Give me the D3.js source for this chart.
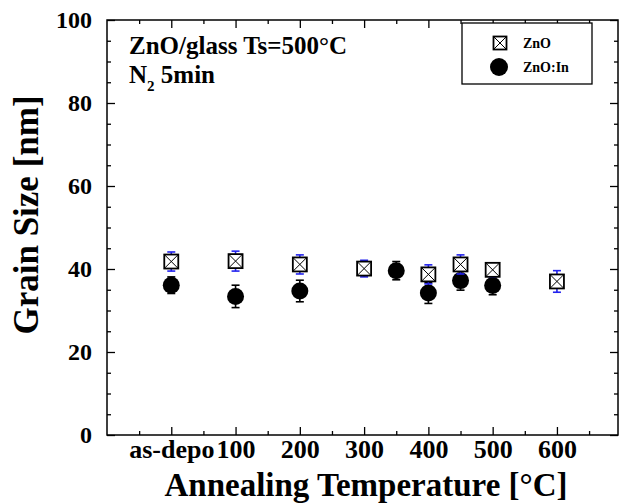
<!DOCTYPE html>
<html>
<head>
<meta charset="utf-8">
<title>Grain Size</title>
<style>
body {margin: 0; background: #fff;}
text {font-family: "Liberation Serif", "DejaVu Serif", serif; font-weight: bold; fill: #000;}
.axis path.domain {display: none;}
.axis line {stroke: #000; stroke-width: 1.3;}
</style>
</head>
<body>
<div id="chart"></div>
<script src="https://cdn.jsdelivr.net/npm/d3@7"></script>
<script>
// annealing temperature (0 = as-deposited) and grain size [nm]
var znoTemp = [0, 100, 200, 300, 400, 450, 500, 600];
var znoSize = [41.8, 41.9, 41.1, 40.1, 38.7, 41.1, 39.8, 37.0];
var znoErr  = [2.3, 2.4, 2.3, 2.0, 2.3, 2.3, 1.7, 2.6];

var inTemp = [0, 100, 200, 350, 400, 450, 500];
var inSize = [36.1, 33.4, 34.7, 39.6, 34.2, 37.2, 36.0];
var inErr  = [2.0, 2.7, 2.6, 2.2, 2.5, 2.3, 2.2];

var xTicks = [0, 100, 200, 300, 400, 500, 600];
var xTickLabels = ['as-depo', '100', '200', '300', '400', '500', '600'];
var yTicks = [0, 20, 40, 60, 80, 100];
var legendNames = ['ZnO', 'ZnO:In'];

(function(d3) {
	var W = 626, H = 504;
	var left = 107, top = 20, right = 618, bottom = 435;

	var x = d3.scaleLinear().domain([-100, 695]).range([left, right]);
	var y = d3.scaleLinear().domain([0, 100]).range([bottom, top]);

	var svg = d3.select('#chart').append('svg')
		.attr('width', W)
		.attr('height', H);

	var xMinor = d3.range(-50, 695, 50).filter(function(d) { return d % 100 !== 0; });
	var yMinor = d3.range(0, 101, 5).filter(function(d) { return d % 20 !== 0; });

	// bottom axis
	svg.append('g').attr('class', 'axis')
		.attr('transform', 'translate(0,' + bottom + ')')
		.call(d3.axisBottom(x).tickValues(xTicks).tickSize(-8).tickPadding(5)
			.tickFormat(function(d, i) { return xTickLabels[i]; }))
		.selectAll('text').style('font-size', '26px');
	svg.append('g').attr('class', 'axis')
		.attr('transform', 'translate(0,' + bottom + ')')
		.call(d3.axisBottom(x).tickValues(xMinor).tickSize(-4).tickFormat(''));
	// top axis
	svg.append('g').attr('class', 'axis')
		.attr('transform', 'translate(0,' + top + ')')
		.call(d3.axisTop(x).tickValues(xTicks).tickSize(-8).tickFormat(''));
	svg.append('g').attr('class', 'axis')
		.attr('transform', 'translate(0,' + top + ')')
		.call(d3.axisTop(x).tickValues(xMinor).tickSize(-4).tickFormat(''));

	// left axis
	svg.append('g').attr('class', 'axis')
		.attr('transform', 'translate(' + left + ',0)')
		.call(d3.axisLeft(y).tickValues(yTicks).tickSize(-8).tickPadding(15))
		.selectAll('text').style('font-size', '24px');
	svg.append('g').attr('class', 'axis')
		.attr('transform', 'translate(' + left + ',0)')
		.call(d3.axisLeft(y).tickValues(yMinor).tickSize(-4).tickFormat(''));
	// right axis
	svg.append('g').attr('class', 'axis')
		.attr('transform', 'translate(' + right + ',0)')
		.call(d3.axisRight(y).tickValues(yTicks).tickSize(-8).tickFormat(''));
	svg.append('g').attr('class', 'axis')
		.attr('transform', 'translate(' + right + ',0)')
		.call(d3.axisRight(y).tickValues(yMinor).tickSize(-4).tickFormat(''));

	// frame
	svg.append('rect')
		.attr('x', left).attr('y', top)
		.attr('width', right - left).attr('height', bottom - top)
		.attr('fill', 'none').attr('stroke', '#000').attr('stroke-width', 1.5);

	// axis titles
	svg.append('text')
		.attr('x', 366).attr('y', 496)
		.attr('text-anchor', 'middle')
		.style('font-size', '33px')
		.text('Annealing Temperature [\u00b0C]');
	svg.append('text')
		.attr('transform', 'translate(38,215) rotate(-90)')
		.attr('text-anchor', 'middle')
		.style('font-size', '35px')
		.text('Grain Size [nm]');

	// annotation
	svg.append('text')
		.attr('x', 129).attr('y', 54)
		.style('font-size', '25px')
		.text('ZnO/glass Ts=500\u00b0C');
	var n2 = svg.append('text')
		.attr('x', 129).attr('y', 83)
		.style('font-size', '25px');
	n2.append('tspan').text('N');
	n2.append('tspan').attr('dy', 8).style('font-size', '15px').text('2');
	n2.append('tspan').attr('dy', -8).text(' 5min');

	var errW = 4;
	function errorBars(temps, sizes, errs, color) {
		var g = svg.append('g').attr('stroke', color).attr('stroke-width', 1.6);
		temps.forEach(function(t, i) {
			var cx = x(t), y0 = y(sizes[i] - errs[i]), y1 = y(sizes[i] + errs[i]);
			g.append('line').attr('x1', cx).attr('x2', cx).attr('y1', y0).attr('y2', y1);
			g.append('line').attr('x1', cx - errW).attr('x2', cx + errW).attr('y1', y0).attr('y2', y0);
			g.append('line').attr('x1', cx - errW).attr('x2', cx + errW).attr('y1', y1).attr('y2', y1);
		});
	}

	function crossBox(g, cx, cy, s) {
		g.append('rect')
			.attr('x', cx - s).attr('y', cy - s)
			.attr('width', 2 * s).attr('height', 2 * s)
			.attr('fill', '#fff').attr('stroke', '#000').attr('stroke-width', 1.8);
		g.append('path')
			.attr('d', 'M' + (cx - s) + ',' + (cy - s) + 'L' + (cx + s) + ',' + (cy + s) +
				'M' + (cx + s) + ',' + (cy - s) + 'L' + (cx - s) + ',' + (cy + s))
			.attr('stroke', '#000').attr('stroke-width', 1);
	}

	// ZnO:In
	errorBars(inTemp, inSize, inErr, '#000');
	svg.append('g').selectAll('circle')
		.data(inTemp)
		.enter().append('circle')
		.attr('cx', function(d) { return x(d); })
		.attr('cy', function(d, i) { return y(inSize[i]); })
		.attr('r', 8.5)
		.attr('fill', '#000');

	// ZnO
	errorBars(znoTemp, znoSize, znoErr, '#2222ee');
	var sq = svg.append('g');
	znoTemp.forEach(function(t, i) {
		crossBox(sq, x(t), y(znoSize[i]), 7);
	});

	// legend
	var lg = svg.append('g');
	lg.append('rect')
		.attr('x', 462).attr('y', 23).attr('width', 130).attr('height', 61)
		.attr('fill', '#fff').attr('stroke', '#000').attr('stroke-width', 1.3);
	crossBox(lg, 500, 43, 6.5);
	lg.append('circle').attr('cx', 499).attr('cy', 67).attr('r', 9).attr('fill', '#000');
	lg.selectAll('.legend')
		.data(legendNames)
		.enter().append('text')
		.attr('class', 'legend')
		.attr('x', 523)
		.attr('y', function(d, i) { return 48 + i * 24; })
		.style('font-size', '14px')
		.text(function(d) { return d; });
})(window.d3);
</script>
</body>
</html>
